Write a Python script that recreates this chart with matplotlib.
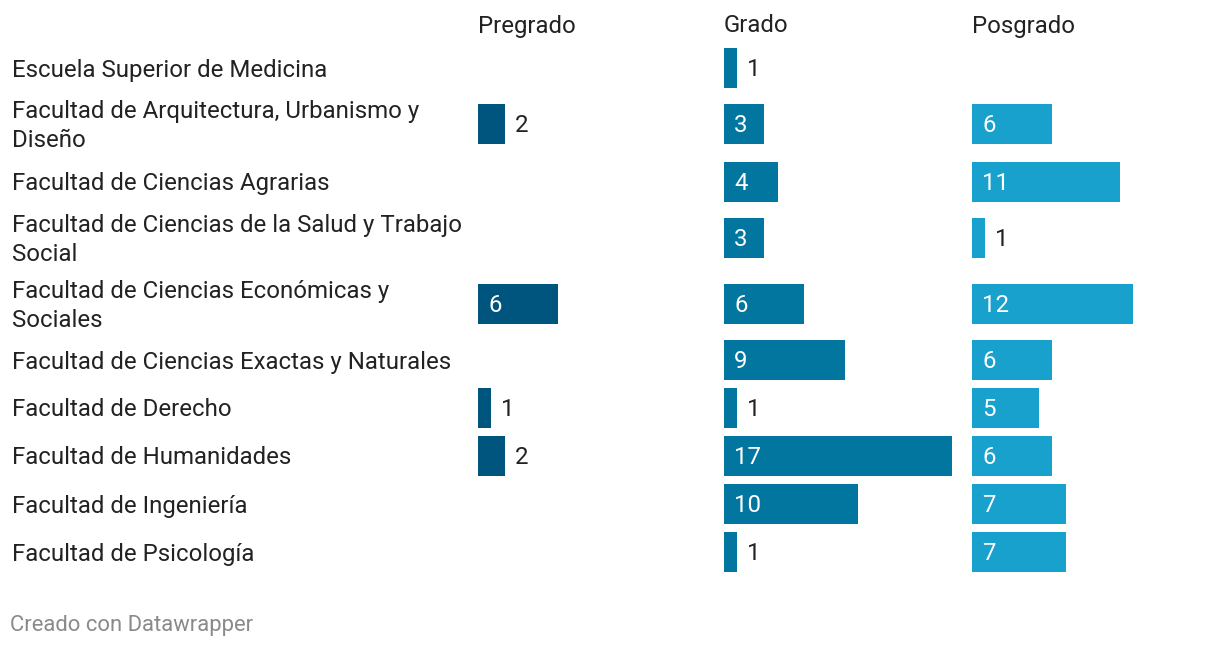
import matplotlib
matplotlib.use("Agg")
import matplotlib.pyplot as plt

plt.rcParams['font.family'] = ['Roboto', 'DejaVu Sans']

categories = [
    "Escuela Superior de Medicina",
    "Facultad de Arquitectura, Urbanismo y\nDiseño",
    "Facultad de Ciencias Agrarias",
    "Facultad de Ciencias de la Salud y Trabajo\nSocial",
    "Facultad de Ciencias Económicas y\nSociales",
    "Facultad de Ciencias Exactas y Naturales",
    "Facultad de Derecho",
    "Facultad de Humanidades",
    "Facultad de Ingeniería",
    "Facultad de Psicología",
]
panels = ["Pregrado", "Grado", "Posgrado"]
pregrado = [None, 2, None, None, 6, None, 1, 2, None, None]
grado = [1, 3, 4, 3, 6, 9, 1, 17, 10, 1]
posgrado = [None, 6, 11, 1, 12, 6, 5, 6, 7, 7]
series = [pregrado, grado, posgrado]
colors = ["#00557e", "#0376a0", "#18a1cd"]

# layout (pixels)
W, H = 1220, 650
row_centers = [68, 124, 182, 238, 304, 360, 408, 456, 504, 552]
bar_h = 40
panel_left = [478, 724, 972]
panel_width = 240
px_per_unit = 13.41
fs = 17.3
text_color = "#222222"
dy = 2    # text vertical nudge in pixels (centered text)
base = 8.5  # baseline offset below row centre (pixels)

fig = plt.figure(figsize=(W / 100, H / 100), dpi=100)
fig.patch.set_facecolor("white")

for lab, yc in zip(categories, row_centers):
    if "\n" in lab:
        fig.text(12 / W, 1 - (yc + dy) / H, lab, ha="left", va="center", fontsize=fs,
                 color=text_color, linespacing=1.30)
    else:
        fig.text(12 / W, 1 - (yc + base) / H, lab, ha="left", va="baseline",
                 fontsize=fs, color=text_color)

for p, (name, vals, col, left) in enumerate(zip(panels, series, colors, panel_left)):
    ax = fig.add_axes([left / W, 0, panel_width / W, 1])
    ax.set_xlim(0, panel_width / px_per_unit)
    ax.set_ylim(H, 0)
    ax.axis("off")
    ax.text(0, 24 + base, name, ha="left", va="baseline", fontsize=fs, color=text_color)
    for v, yc in zip(vals, row_centers):
        if v is None:
            continue
        ax.barh(yc, v, height=bar_h, color=col, left=0)
        if v >= 3:
            ax.text(0.75, yc + base, str(v), ha="left", va="baseline", fontsize=fs,
                    color="white")
        else:
            ax.text(v + 0.75, yc + base, str(v), ha="left", va="baseline", fontsize=fs,
                    color=text_color)

fig.text(10 / W, 1 - 625 / H, "Creado con Datawrapper", ha="left", va="center",
         fontsize=15.8, color="#8a8a8a")

fig.savefig("out.png", dpi=100)
